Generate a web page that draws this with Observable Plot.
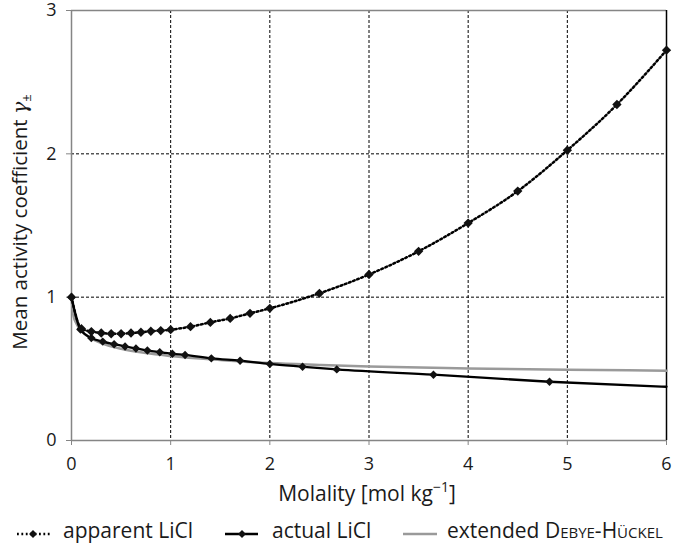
<!DOCTYPE html>
<html>
<head>
<meta charset="utf-8">
<script src="https://cdn.jsdelivr.net/npm/d3@7"></script>
<script src="https://cdn.jsdelivr.net/npm/@observablehq/plot@0.6"></script>
<style>
  html, body { margin: 0; padding: 0; background: #fff; }
  #chart { width: 676px; height: 548px; position: relative; font-family: "Open Sans", sans-serif; }
  svg { display: block; }
</style>
</head>
<body>
<div id="chart"></div>
<script>
// ---- data ----
const apparentX = [0, 0.1, 0.2, 0.3, 0.4, 0.5, 0.6, 0.7, 0.8, 0.9, 1.0, 1.2, 1.4, 1.6, 1.8, 2.0, 2.5, 3.0, 3.5, 4.0, 4.5, 5.0, 5.5, 6.0];
const apparentY = [1.0, 0.78, 0.76, 0.75, 0.745, 0.745, 0.75, 0.755, 0.762, 0.767, 0.773, 0.794, 0.824, 0.852, 0.887, 0.922, 1.027, 1.158, 1.32, 1.517, 1.74, 2.025, 2.344, 2.723];

const actualX = [0, 0.09, 0.2, 0.315, 0.43, 0.54, 0.65, 0.765, 0.89, 1.017, 1.145, 1.41, 1.70, 2.0, 2.33, 2.675, 3.65, 4.82];
const actualY = [1.0, 0.775, 0.715, 0.69, 0.672, 0.656, 0.642, 0.628, 0.616, 0.605, 0.597, 0.573, 0.557, 0.534, 0.515, 0.496, 0.459, 0.41];
const actualLineEndX = [6.0];
const actualLineEndY = [0.375];

const debyeX = [0, 0.02, 0.05, 0.1, 0.2, 0.3, 0.5, 0.75, 1, 1.5, 2, 2.5, 3, 4, 5, 6];
const debyeY = [1.0, 0.87, 0.815, 0.765, 0.712, 0.68, 0.64, 0.61, 0.59, 0.562, 0.54, 0.527, 0.516, 0.503, 0.494, 0.487];

const xTicks = [0, 1, 2, 3, 4, 5, 6];
const yTicks = [0, 1, 2, 3];
const xGrid = [1, 2, 3, 4, 5];
const yGrid = [1, 2];

const xLabel = "Molality [mol kg";
const xLabelSup = "−1";
const yLabel = "Mean activity coefficient ";
const legendLabels = ["apparent LiCl", "actual LiCl", "extended ", "Debye-Hückel"];

// ---- build tables ----
const apparent = apparentX.map((x, i) => ({x, y: apparentY[i]}));
const actual = actualX.map((x, i) => ({x, y: actualY[i]}));
const actualLine = actual.concat(actualLineEndX.map((x, i) => ({x, y: actualLineEndY[i]})));
const debye = debyeX.map((x, i) => ({x, y: debyeY[i]}));

const gray = "#858585";

const plot = Plot.plot({
  width: 676,
  height: 505,
  marginTop: 10,
  marginBottom: 65,
  marginLeft: 71,
  marginRight: 10,
  style: {fontFamily: "Open Sans, sans-serif", fontSize: "18px", background: "#fff", overflow: "visible"},
  x: {domain: [0, 6]},
  y: {domain: [0, 3]},
  marks: [
    Plot.ruleX(xGrid, {stroke: "#000", strokeWidth: 1, strokeDasharray: "3,2"}),
    Plot.ruleY(yGrid, {stroke: "#000", strokeWidth: 1, strokeDasharray: "3,2"}),
    Plot.ruleY([3], {stroke: gray, strokeWidth: 1.5}),
    Plot.ruleX([6], {stroke: "#000", strokeWidth: 1.5}),
    Plot.ruleY([0], {stroke: gray, strokeWidth: 1.5}),
    Plot.ruleX([0], {stroke: gray, strokeWidth: 1.5}),
    Plot.axisX({ticks: xTicks, tickSize: 5, tickPadding: 12, stroke: gray, fill: "#1a1a1a", fontSize: 18, label: null, tickFormat: d => String(d)}),
    Plot.axisY({ticks: yTicks, tickSize: 5, tickPadding: 10, stroke: gray, fill: "#1a1a1a", fontSize: 18, label: null, tickFormat: d => String(d)}),
    Plot.line(debye, {x: "x", y: "y", stroke: "#9a9a9a", strokeWidth: 2.5, curve: "monotone-x"}),
    Plot.line(actualLine, {x: "x", y: "y", stroke: "#000", strokeWidth: 2.3, curve: "monotone-x"}),
    Plot.dot(actual, {x: "x", y: "y", symbol: "diamond2", r: 3.8, fill: "#111", stroke: "none"}),
    Plot.line(apparent, {x: "x", y: "y", stroke: "#000", strokeWidth: 2.5, strokeDasharray: "1.8,2.6", curve: "monotone-x"}),
    Plot.dot(apparent, {x: "x", y: "y", symbol: "diamond2", r: 4.2, fill: "#111", stroke: "none"})
  ]
});

const chart = document.getElementById("chart");
chart.appendChild(plot);

const svg = d3.select(plot);
// x label
const xl = svg.append("text")
  .attr("x", 367).attr("y", 501)
  .attr("text-anchor", "middle")
  .attr("fill", "#1a1a1a")
  .style("font-size", "21px");
xl.append("tspan").text(xLabel);
xl.append("tspan").attr("dy", -9).style("font-size", "14px").text(xLabelSup);
xl.append("tspan").attr("dy", 9).text("]");

// y label
const yl = svg.append("text")
  .attr("transform", "translate(27,222) rotate(-90)")
  .attr("text-anchor", "middle")
  .attr("fill", "#1a1a1a")
  .style("font-size", "20.5px");
yl.append("tspan").text(yLabel);
yl.append("tspan").style("font-style", "italic").style("font-family", "DejaVu Serif, serif").text("γ");
yl.append("tspan").attr("dy", 4).style("font-size", "13px").text("±");

// legend
const leg = d3.select(chart).append("svg")
  .attr("width", 676).attr("height", 43)
  .style("font-family", "Open Sans, sans-serif")
  .style("font-size", "21px");
const ly = 29, ty = 33;
const diamond = d3.symbol(d3.symbolDiamond2, 40);
// apparent
leg.append("line").attr("x1", 17).attr("x2", 51).attr("y1", ly).attr("y2", ly)
  .attr("stroke", "#000").attr("stroke-width", 2.5).attr("stroke-dasharray", "1.8,2.6");
leg.append("path").attr("d", diamond()).attr("transform", `translate(33,${ly})`).attr("fill", "#111");
leg.append("text").attr("x", 63).attr("y", ty).attr("fill", "#1a1a1a").text(legendLabels[0]);
// actual
leg.append("line").attr("x1", 225).attr("x2", 258).attr("y1", ly).attr("y2", ly)
  .attr("stroke", "#000").attr("stroke-width", 2.3);
leg.append("path").attr("d", diamond()).attr("transform", `translate(242,${ly})`).attr("fill", "#111");
leg.append("text").attr("x", 272).attr("y", ty).attr("fill", "#1a1a1a").text(legendLabels[1]);
// debye
leg.append("line").attr("x1", 403).attr("x2", 437).attr("y1", ly).attr("y2", ly)
  .attr("stroke", "#9a9a9a").attr("stroke-width", 2.5);
const lt = leg.append("text").attr("x", 447).attr("y", ty).attr("fill", "#1a1a1a");
lt.append("tspan").text(legendLabels[2]);
lt.append("tspan").style("font-variant", "small-caps").text(legendLabels[3]);
</script>
</body>
</html>
